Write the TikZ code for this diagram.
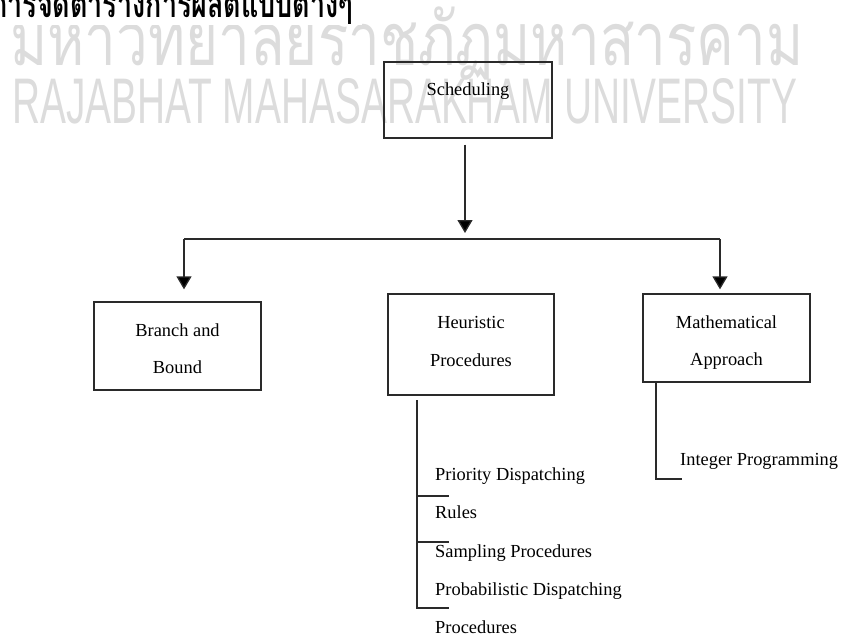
\documentclass[tikz,border=0pt]{standalone}
\usepackage{fontspec}
\setmainfont{Liberation Serif}
\newfontfamily\thaifont[Script=Thai]{Loma}
\newfontfamily\wmsans{Liberation Sans}
\usetikzlibrary{arrows.meta}
\definecolor{wm}{HTML}{DCDCDC}
\definecolor{ink}{HTML}{2A2A2A}
\tikzset{
  boxst/.style={draw=ink, line width=1.3pt, rectangle, inner sep=0pt},
  lbl/.style={anchor=base, inner sep=0pt, font=\fontsize{18.4}{22}\selectfont, text=black},
  lst/.style={anchor=base west, inner sep=0pt, font=\fontsize{18.4}{22}\selectfont, text=black},
  conn/.style={draw=ink, line width=1.3pt},
  arr/.style={conn, -{Triangle[width=15pt,length=13pt,fill=black]}},
}
\begin{document}
\begin{tikzpicture}[x=1pt,y=-1pt]
\useasboundingbox (0,0) rectangle (844,638);
\clip (0,0) rectangle (844,638);
% watermark
\node[anchor=base west, inner sep=0pt, text=wm] (wmth) at (10,65)
  {\scalebox{1}[1.3]{\resizebox{793pt}{!}{\thaifont มหาวิทยาลัยราชภัฏมหาสารคาม}}};
\node[anchor=base west, inner sep=0pt, text=wm] (wmen) at (12,123)
  {\resizebox{785pt}{45pt}{\wmsans RAJABHAT MAHASARAKHAM UNIVERSITY}};
% header (its white band hides the watermark's upper marks)
\fill[white] (-10,-5) rectangle (362,25);
\node[anchor=base west, inner sep=0pt, text=black] (head) at (-9,17)
  {\scalebox{1}[1.4]{\resizebox{362pt}{!}{\thaifont\bfseries การจัดตารางการผลิตแบบต่างๆ}}};
% boxes
\node[boxst, minimum width=168pt, minimum height=76pt] (sched) at (468,100) {};
\node[lbl] (schedt) at (468,95) {Scheduling};
\node[boxst, minimum width=167pt, minimum height=88pt] (bb) at (177.5,346) {};
\node[lbl] (bbt1) at (177.5,336) {Branch and};
\node[lbl] (bbt2) at (177.5,373) {Bound};
\node[boxst, minimum width=166pt, minimum height=101pt] (heu) at (471,344.5) {};
\node[lbl] (heut1) at (471,328) {Heuristic};
\node[lbl] (heut2) at (471,366) {Procedures};
\node[boxst, minimum width=167pt, minimum height=88pt] (mat) at (726.5,338) {};
\node[lbl] (matt1) at (726.5,328) {Mathematical};
\node[lbl] (matt2) at (726.5,365) {Approach};
% lists
\node[lst] (p1) at (435,480) {Priority Dispatching};
\node[lst] (p2) at (435,518) {Rules};
\node[lst] (p3) at (435,557) {Sampling Procedures};
\node[lst] (p4) at (435,595) {Probabilistic Dispatching};
\node[lst] (p5) at (435,633) {Procedures};
\node[lst] (ip) at (680,465) {Integer Programming};
% connectors
\coordinate (busL) at (184,239);
\coordinate (busR) at (720,239);
\coordinate (busC) at (465,233);
\draw[arr] ([xshift=-3pt,yshift=-6pt]sched.south) -- (busC);
\draw[conn] (busL) -- (busR);
\draw[arr] (busL) -- ([yshift=12pt]bb.north -| busL);
\draw[arr] (busR) -- ([yshift=4pt]mat.north -| busR);
% heuristic bracket
\coordinate (h0) at (417,400);
\coordinate (h1) at (417,496);
\coordinate (h2) at (417,542);
\coordinate (h3) at (417,608);
\draw[conn] (h0) -- (h3) -- (h3 -| 449,0);
\draw[conn] (h1) -- (h1 -| 449,0);
\draw[conn] (h2) -- (h2 -| 449,0);
% math bracket
\coordinate (m0) at (656,382);
\coordinate (m1) at (656,479);
\draw[conn] (m0) -- (m1) -- (m1 -| 682,0);
\end{tikzpicture}
\end{document}
